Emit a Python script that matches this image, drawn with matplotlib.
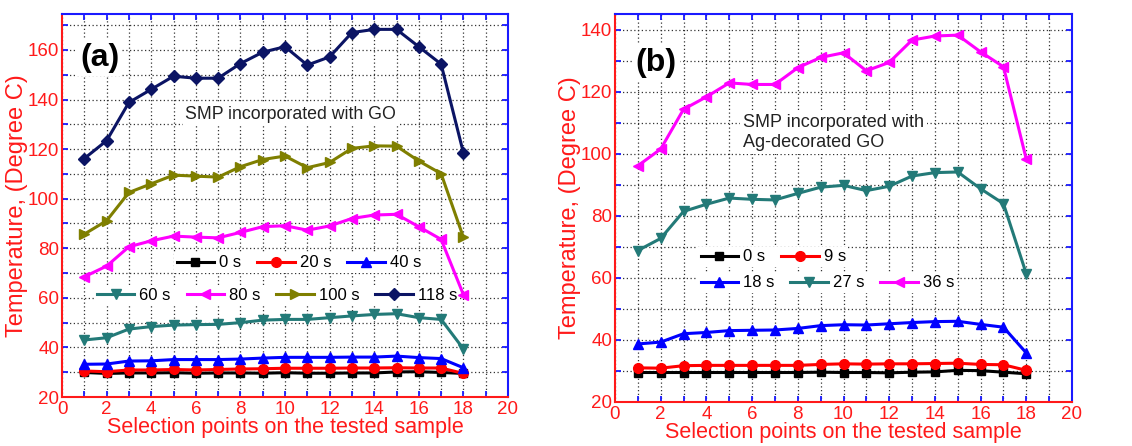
import matplotlib
matplotlib.use("Agg")
import matplotlib.pyplot as plt
from matplotlib.ticker import MultipleLocator

plt.rcParams['font.family'] = ['Liberation Sans', 'DejaVu Sans']

points = list(range(1, 19))

# Panel (a): SMP incorporated with GO
labels_a = ["0 s", "20 s", "40 s", "60 s", "80 s", "100 s", "118 s"]
a_0s = [29.9, 29.5, 29.7, 29.7, 29.8, 29.6, 29.7, 29.7, 29.6, 29.8, 29.6, 29.6, 29.7, 29.7, 30.1, 30.2, 29.9, 29.5]
a_20s = [30.5, 30.2, 30.9, 30.9, 31.1, 30.9, 31.1, 31.3, 31.4, 31.6, 31.6, 31.6, 31.7, 31.7, 31.8, 31.7, 31.7, 29.5]
a_40s = [33.2, 33.3, 34.5, 34.6, 35.1, 35.1, 35.1, 35.3, 35.7, 36.0, 36.0, 36.0, 36.1, 36.1, 36.5, 35.9, 35.5, 31.8]
a_60s = [43.0, 43.9, 47.4, 48.4, 49.0, 49.2, 49.3, 50.0, 51.0, 51.3, 51.3, 52.0, 52.7, 53.3, 53.6, 52.0, 51.3, 39.4]
a_80s = [68.5, 72.8, 80.6, 83.0, 84.9, 84.5, 84.2, 86.4, 88.7, 89.1, 87.3, 89.0, 92.0, 93.4, 93.7, 88.7, 83.6, 61.3]
a_100s = [85.7, 91.1, 102.5, 106.0, 109.5, 109.1, 108.7, 112.9, 115.8, 117.2, 112.5, 114.6, 120.3, 121.3, 121.2, 115.2, 110.1, 84.4]
a_118s = [116.2, 123.4, 138.8, 144.1, 149.4, 148.6, 148.6, 154.5, 159.1, 161.3, 153.9, 157.2, 167.0, 168.3, 168.3, 161.3, 154.3, 118.5]

# Panel (b): SMP incorporated with Ag-decorated GO
labels_b = ["0 s", "9 s", "18 s", "27 s", "36 s"]
b_0s = [29.5, 29.5, 29.5, 29.5, 29.5, 29.5, 29.5, 29.5, 29.6, 29.5, 29.5, 29.4, 29.6, 29.7, 30.2, 30.1, 29.6, 29.1]
b_9s = [31.0, 30.9, 31.7, 31.8, 31.8, 31.8, 31.8, 31.8, 32.1, 32.3, 32.2, 32.3, 32.3, 32.4, 32.5, 32.1, 32.0, 30.2]
b_18s = [38.7, 39.3, 42.0, 42.4, 43.0, 43.1, 43.2, 43.7, 44.6, 44.9, 44.8, 45.2, 45.6, 45.9, 46.0, 45.0, 44.1, 35.8]
b_27s = [68.8, 72.7, 81.4, 83.7, 85.7, 85.3, 85.1, 87.2, 89.2, 89.8, 88.1, 89.5, 92.8, 93.9, 94.1, 88.7, 83.9, 61.3]
b_36s = [96.1, 101.5, 114.3, 118.3, 122.8, 122.3, 122.3, 127.7, 131.0, 132.5, 126.7, 129.4, 136.6, 137.9, 138.2, 132.8, 128.0, 98.2]

RED = '#ff1a1a'
BLUE = '#1a1aff'

styles_a = [
    ('black', 's', 6),
    ('#ff0000', 'o', 7),
    ('#0000ff', '^', 7.5),
    ('#237a78', 'v', 7.5),
    ('#ff00ff', '<', 7.5),
    ('#7f7f00', '>', 7.5),
    ('#0b1464', 'D', 6.5),
]
styles_b = [
    ('black', 's', 6),
    ('#ff0000', 'o', 7),
    ('#0000ff', '^', 7.5),
    ('#237a78', 'v', 7.5),
    ('#ff00ff', '<', 7.5),
]

fig = plt.figure(figsize=(11.32, 4.46), dpi=100)
ax_a = fig.add_axes([62/1132, 1-397/446, 446/1132, 383/446])
ax_b = fig.add_axes([615/1132, 1-402/446, 457/1132, 388/446])


def style_axes(ax, ylim):
    ax.set_xlim(0, 20)
    ax.set_ylim(*ylim)
    ax.xaxis.set_major_locator(MultipleLocator(2))
    ax.xaxis.set_minor_locator(MultipleLocator(1))
    ax.yaxis.set_major_locator(MultipleLocator(20))
    ax.yaxis.set_minor_locator(MultipleLocator(10))
    ax.grid(True, which='both', color='#333333', linestyle=(0, (1, 2)), linewidth=0.9, zorder=0)
    ax.set_axisbelow(True)
    for side in ('left', 'bottom'):
        ax.spines[side].set_color(RED)
        ax.spines[side].set_linewidth(1.5)
    for side in ('top', 'right'):
        ax.spines[side].set_color(BLUE)
        ax.spines[side].set_linewidth(1.5)
    ax.tick_params(which='both', direction='in', top=True, right=True, length=4.5, width=1.3)
    ax.tick_params(axis='x', which='both', colors=BLUE)
    ax.tick_params(axis='y', which='both', colors=BLUE)
    ax.tick_params(axis='x', which='both', bottom=True, labelcolor=RED, labelsize=13.5, pad=3)
    ax.tick_params(axis='y', which='both', labelcolor=RED, labelsize=13.5, pad=2)
    for minor in (False, True):
        for t in ax.xaxis.get_ticklines(minor=minor)[0::2]:
            t.set_color(RED)
        for t in ax.yaxis.get_ticklines(minor=minor)[0::2]:
            t.set_color(RED)
    ax.set_xlabel('Selection points on the tested sample', color=RED, fontsize=15.5, labelpad=-1)
    ax.set_ylabel('Temperature, (Degree C)', color=RED, fontsize=17, labelpad=0)


style_axes(ax_a, (20, 174.5))
style_axes(ax_b, (20, 145))

series_a = [a_0s, a_20s, a_40s, a_60s, a_80s, a_100s, a_118s]
handles_a = []
for ys, lab, (c, m, ms) in zip(series_a, labels_a, styles_a):
    h, = ax_a.plot(points, ys, color=c, marker=m, markersize=ms, linewidth=2.2, label=lab, zorder=3)
    handles_a.append(h)

series_b = [b_0s, b_9s, b_18s, b_27s, b_36s]
handles_b = []
for ys, lab, (c, m, ms) in zip(series_b, labels_b, styles_b):
    h, = ax_b.plot(points, ys, color=c, marker=m, markersize=ms, linewidth=2.2, label=lab, zorder=3)
    handles_b.append(h)

leg_kw = dict(fontsize=12, handlelength=2.25, handletextpad=0.3, columnspacing=0.95,
              borderpad=0.15, borderaxespad=0, fancybox=False, framealpha=1.0)


def add_legend(ax, hs, labs, ncol, loc, anchor):
    leg = ax.legend(hs, labs, ncol=ncol, loc=loc, bbox_to_anchor=anchor, **leg_kw)
    leg.get_frame().set_edgecolor('none')
    leg.set_zorder(2.5)
    ax.add_artist(leg)
    return leg


add_legend(ax_a, handles_a[:3], labels_a[:3], 3, 'center', (0.531, 0.350))
add_legend(ax_a, handles_a[3:], labels_a[3:], 4, 'center', (0.482, 0.266))
add_legend(ax_b, handles_b[:2], labels_b[:2], 2, 'center left', (0.182, 0.374))
add_legend(ax_b, handles_b[2:], labels_b[2:], 3, 'center left', (0.182, 0.307))

box = dict(facecolor='white', edgecolor='none', pad=2)
ax_a.text(0.085, 0.885, '(a)', transform=ax_a.transAxes, fontsize=23, fontweight='bold',
          ha='center', va='center', bbox=box, zorder=4)
ax_a.text(0.513, 0.737, 'SMP incorporated with GO', transform=ax_a.transAxes, fontsize=12.8,
          ha='center', va='center', color='#222222', bbox=box, zorder=4)

ax_b.text(0.09, 0.875, '(b)', transform=ax_b.transAxes, fontsize=23, fontweight='bold',
          ha='center', va='center', bbox=box, zorder=4)
ax_b.text(0.28, 0.695, 'SMP incorporated with\nAg-decorated GO', transform=ax_b.transAxes, fontsize=13,
          ha='left', va='center', color='#222222', linespacing=1.25, bbox=box, zorder=4)

fig.savefig('out.png', dpi=100)
